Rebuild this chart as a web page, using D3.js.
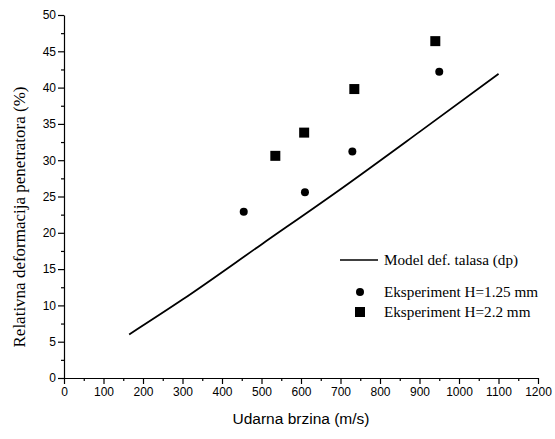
<!DOCTYPE html>
<html><head><meta charset="utf-8">
<script src="https://cdn.jsdelivr.net/npm/d3@7"></script>
<style>body{margin:0;background:#fff}svg{display:block}</style>
</head><body>
<svg id="c" width="555" height="439"></svg>
<script>
const modelX = [165, 300, 500, 700, 900, 1100];
const modelY = [6.0, 10.8, 18.4, 26.0, 33.9, 41.9];
const circX = [455, 610, 730, 950];
const circY = [22.9, 25.6, 31.2, 42.2];
const sqX = [535, 608, 735, 940];
const sqY = [30.6, 33.8, 39.8, 46.4];
const xTicks = [0,100,200,300,400,500,600,700,800,900,1000,1100,1200];
const yTicks = [0,5,10,15,20,25,30,35,40,45,50];
const legendLabels = ["Model def. talasa (dp)", "Eksperiment H=1.25 mm", "Eksperiment H=2.2 mm"];

const svg = d3.select("#c");
const x = d3.scaleLinear().domain([0,1200]).range([64,538]);
const y = d3.scaleLinear().domain([0,50]).range([378,15]);

const xMinor = d3.range(50,1200,100);
const yMinor = d3.range(2.5,50,5);
const xAxis = svg.append("g").attr("transform","translate(0,378)")
  .call(d3.axisBottom(x).tickValues(xTicks).tickFormat(d3.format("d")).tickSize(6).tickSizeOuter(0));
svg.append("g").attr("transform","translate(0,378)")
  .call(d3.axisBottom(x).tickValues(xMinor).tickFormat("").tickSize(3).tickSizeOuter(0))
  .select(".domain").remove();
const yAxis = svg.append("g").attr("transform","translate(64,0)")
  .call(d3.axisLeft(y).tickValues(yTicks).tickSize(6).tickSizeOuter(0));
svg.append("g").attr("transform","translate(64,0)")
  .call(d3.axisLeft(y).tickValues(yMinor).tickFormat("").tickSize(3).tickSizeOuter(0))
  .select(".domain").remove();
svg.selectAll(".domain").attr("stroke","#000").attr("stroke-width",1.2);
svg.selectAll(".tick line").attr("stroke","#000").attr("stroke-width",1.2);
svg.selectAll(".tick text").attr("font-family","Liberation Sans, Arial, sans-serif").attr("font-size",12).attr("fill","#000");
xAxis.selectAll(".tick text").attr("dy","0.85em").attr("y",8);
yAxis.selectAll(".tick text").attr("x",-8);

svg.append("text").attr("x",301).attr("y",424).attr("text-anchor","middle")
  .attr("font-family","Liberation Sans, Arial, sans-serif").attr("font-size",15.5).text("Udarna brzina (m/s)");
svg.append("text").attr("transform","translate(25,217) rotate(-90)").attr("text-anchor","middle")
  .attr("font-family","Liberation Serif, Times New Roman, serif").attr("font-size",17).text("Relativna deformacija penetratora (%)");

const model = modelX.map((d,i)=>[d,modelY[i]]);
svg.append("path").datum(model)
  .attr("d", d3.line().x(d=>x(d[0])).y(d=>y(d[1])).curve(d3.curveMonotoneX))
  .attr("fill","none").attr("stroke","#000").attr("stroke-width",1.8);

svg.selectAll("circle.pt").data(circX.map((d,i)=>[d,circY[i]])).enter().append("circle")
  .attr("class","pt").attr("cx",d=>x(d[0])).attr("cy",d=>y(d[1])).attr("r",4).attr("fill","#000");
const s = 10;
svg.selectAll("rect.pt").data(sqX.map((d,i)=>[d,sqY[i]])).enter().append("rect")
  .attr("class","pt").attr("x",d=>x(d[0])-s/2).attr("y",d=>y(d[1])-s/2).attr("width",s).attr("height",s).attr("fill","#000");

const lg = svg.append("g").attr("font-family","Liberation Serif, Times New Roman, serif").attr("font-size",15.2);
lg.append("line").attr("x1",340).attr("x2",378).attr("y1",260).attr("y2",260).attr("stroke","#000").attr("stroke-width",1.5);
lg.append("circle").attr("cx",360).attr("cy",292).attr("r",4).attr("fill","#000");
lg.append("rect").attr("x",355).attr("y",307).attr("width",10).attr("height",10).attr("fill","#000");
[260,292,312].forEach((yy,i)=>{
  lg.append("text").attr("x",384).attr("y",yy).attr("dy","0.35em").text(legendLabels[i]);
});
</script>
</body></html>
